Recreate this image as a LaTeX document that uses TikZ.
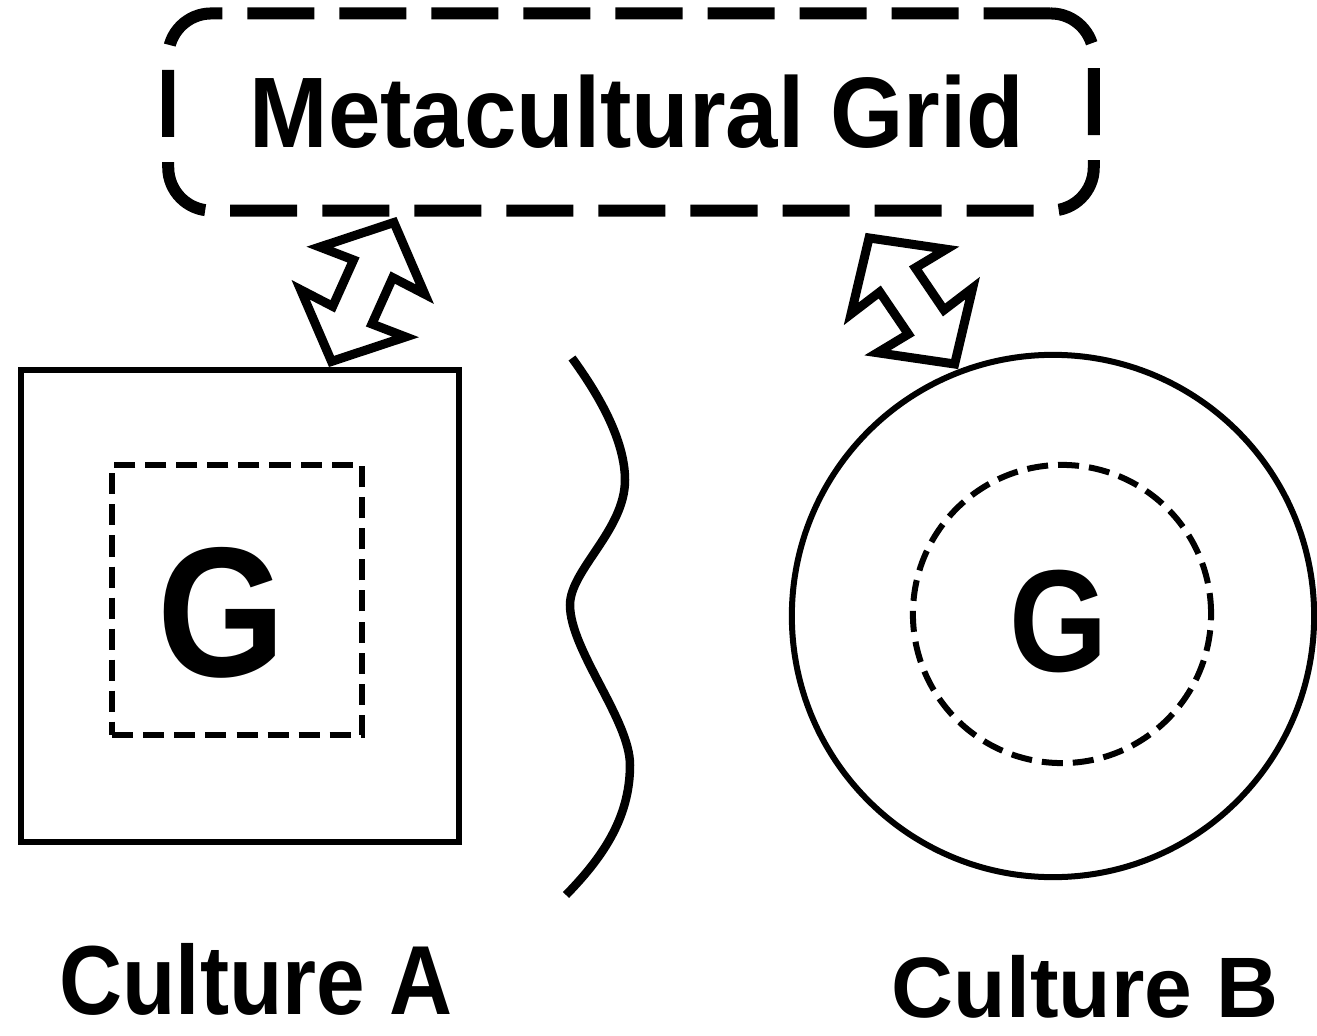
\documentclass[tikz,border=0pt]{standalone}
\usepackage{fontspec}
\usepackage{graphicx}
\setsansfont{Liberation Sans}
\usetikzlibrary{shapes.arrows, calc}
\tikzstyle{metagrid} = [rectangle,
rounded corners=0.43cm,
draw=black,
line width=0.12cm,
dash pattern=on 0.67cm off 0.25cm,
minimum width=9.25cm,
minimum height=1.97cm,
font=\sffamily\bfseries\fontsize{28.5}{30}\selectfont]
\tikzstyle{culturebox} = [draw=black,
line width=0.06cm,
inner sep=0]
\tikzstyle{innergrid} = [draw=black,
line width=0.06cm,
dash pattern=on 0.21cm off 0.1cm,
inner sep=0]
\tikzstyle{gletter} = [inner sep=0]
\tikzstyle{culturename} = [inner sep=0,
anchor=base]
\tikzstyle{dblarrow} = [double arrow,
draw=black,
fill=white,
line width=0.09cm,
inner sep=0.17cm,
double arrow head extend=0.36cm,
double arrow head indent=0.02cm,
double arrow tip angle=95]
\tikzstyle{wave} = [line width=0.085cm]

\begin{document}
\begin{tikzpicture}[x=0.01cm, y=-0.01cm]
  \useasboundingbox (0,0) rectangle (1317,1036);
  \node (grid) [metagrid] at (631,112) {\hspace*{0.12cm}\scalebox{0.94}[1]{Metacultural Grid}};

  % culture A
  \node (cultA) [culturebox, rectangle, minimum width=4.38cm, minimum height=4.71cm] at (240,606) {};
  \node (gridA) [innergrid, rectangle, minimum width=2.49cm, minimum height=2.69cm] at (237,600) {};
  \node (gA) [gletter, font=\sffamily\bfseries\fontsize{52.6}{55}\selectfont] at (222,613) {\scalebox{0.89}[1]{G}};
  \node (nameA) [culturename, font=\sffamily\bfseries\fontsize{27.9}{30}\selectfont] at (256,1014) {\scalebox{0.89}[1]{Culture A}};

  % culture B
  \node (cultB) [culturebox, circle, minimum size=5.22cm] at (1053,616) {};
  \node (gridB) [innergrid, circle, minimum size=2.98cm] at (1062,614) {};
  \node (gB) [gletter, font=\sffamily\bfseries\fontsize{41.3}{43}\selectfont] at (1059,621) {\scalebox{0.87}[1]{G}};
  \node (nameB) [culturename, font=\sffamily\bfseries\fontsize{24.4}{26}\selectfont] at (1085,1017) {Culture B};

  \draw [wave] (572,358) .. controls (610,410) and (625,450) .. (625,480)
    .. controls (625,530) and (570,570) .. (570,605)
    .. controls (570,650) and (630,720) .. (630,765)
    .. controls (630,820) and (600,860) .. (566,895);

  \coordinate (aTop) at ($(grid.south west)!0.25!(grid.south east)$);
  \coordinate (aBot) at ($(cultA.north west)!0.70!(cultA.north east)$);
  \coordinate (bTop) at ($(grid.south west)!0.75!(grid.south east)+(0,16)$);
  \coordinate (bBot) at (cultB.111);

  \path let \p1=($(aTop)-(aBot)$), \n1={veclen(\x1,\y1)} in
    (aBot) -- node [dblarrow, sloped, minimum height=\n1-0.13cm] {} (aTop);
  \path let \p1=($(bTop)-(bBot)$), \n1={veclen(\x1,\y1)} in
    (bBot) -- node [dblarrow, sloped, minimum height=\n1-0.13cm] {} (bTop);
\end{tikzpicture}
\end{document}
